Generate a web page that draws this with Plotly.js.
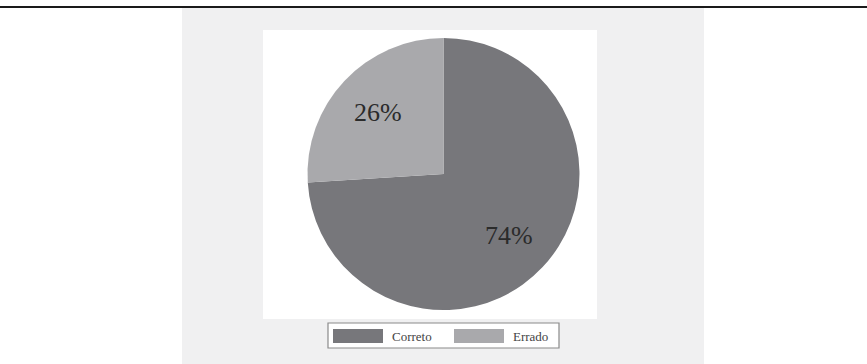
<!DOCTYPE html>
<html>
<head>
<meta charset="utf-8">
<script src="https://cdn.plot.ly/plotly-3.0.1.min.js"></script>
<style>
html,body{margin:0;padding:0;background:#fff;}
#chart{width:867px;height:364px;}
</style>
</head>
<body>
<div id="chart"></div>
<script>
const labels = ['Correto', 'Errado'];
const values = [74, 26];
const sliceColors = ['#77777b', '#a9a9ac'];

const W = 867, H = 364;
const plotL = 263, plotR = 597, plotT = 30, plotB = 319;
const pw = plotR - plotL, ph = plotB - plotT;
const px = x => (x - plotL) / pw;
const py = y => (plotB - y) / ph;

// pie geometry (pixels)
const cx = 443.5, cy = 174, R = 136;

const trace = {
  type: 'pie',
  labels: labels,
  values: values,
  sort: false,
  direction: 'clockwise',
  rotation: 0,
  marker: {colors: sliceColors, line: {width: 0}},
  textinfo: 'none',
  hoverinfo: 'label+percent',
  showlegend: false,
  domain: {x: [px(cx - R), px(cx + R)], y: [py(cy + R), py(cy - R)]}
};

// percentage labels placed along each slice's mid-angle
const total = values.reduce((a, b) => a + b, 0);
const annotations = [];
let cum = 0;
values.forEach((v, i) => {
  const mid = (cum + v / 2) / total * 2 * Math.PI; // clockwise from top
  cum += v;
  const rr = 0.66 * R;
  const x = cx + rr * Math.sin(mid);
  const y = cy - rr * Math.cos(mid);
  annotations.push({
    xref: 'paper', yref: 'paper', x: px(x), y: py(y),
    xanchor: 'center', yanchor: 'middle', showarrow: false,
    text: Math.round(v / total * 100) + '%',
    font: {family: 'Liberation Serif, serif', size: 26, color: '#2b2b2b'}
  });
});

// custom legend (wide swatches as in the reference)
const shapes = [
  {type: 'rect', xref: 'paper', yref: 'paper', x0: px(182), x1: px(704), y0: py(364), y1: py(8),
   fillcolor: '#f0f0f1', line: {width: 0}, layer: 'below'},
  {type: 'rect', xref: 'paper', yref: 'paper', x0: 0, x1: 1, y0: 0, y1: 1,
   fillcolor: '#ffffff', line: {width: 0}, layer: 'below'},
  {type: 'line', xref: 'paper', yref: 'paper', x0: px(0), x1: px(867), y0: py(7), y1: py(7),
   line: {color: '#1a1a1a', width: 2}, layer: 'above'},
  {type: 'rect', xref: 'paper', yref: 'paper', x0: px(328), x1: px(559), y0: py(348), y1: py(323),
   fillcolor: '#ffffff', line: {color: '#8a8a8a', width: 1.2}, layer: 'above'}
];
const legX = [333, 454];
labels.forEach((lab, i) => {
  shapes.push({type: 'rect', xref: 'paper', yref: 'paper',
    x0: px(legX[i]), x1: px(legX[i] + 50), y0: py(343), y1: py(329),
    fillcolor: sliceColors[i], line: {width: 0}, layer: 'above'});
  annotations.push({xref: 'paper', yref: 'paper', x: px(legX[i] + 57), y: py(336.5),
    xanchor: 'left', yanchor: 'middle', showarrow: false, text: lab,
    font: {family: 'Liberation Serif, serif', size: 13, color: '#444'}});
});

const layout = {
  width: W, height: H,
  margin: {l: plotL, r: W - plotR, t: plotT, b: H - plotB, pad: 0},
  paper_bgcolor: '#ffffff',
  showlegend: false,
  shapes: shapes,
  annotations: annotations
};

Plotly.newPlot('chart', [trace], layout, {displayModeBar: false, staticPlot: true});
</script>
</body>
</html>
